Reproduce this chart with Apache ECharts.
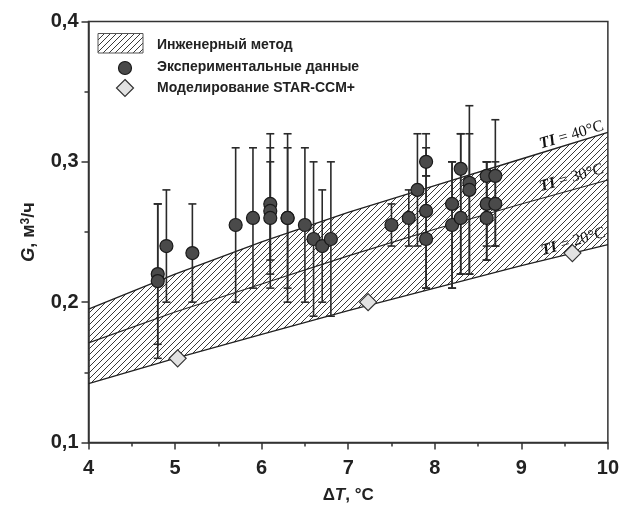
<!DOCTYPE html>
<html><head><meta charset="utf-8">
<script src="https://cdn.jsdelivr.net/npm/echarts@6/dist/echarts.min.js"></script>
<style>html,body{margin:0;padding:0;background:#fff}#c{width:622px;height:515px}</style>
</head><body><div id="c"></div>
<script>
// Engineering method curves (TI = 20, 30, 40 °C)
const curveX = [4, 5, 6, 7, 8, 9, 10];
const ti40 = [0.195, 0.220, 0.243, 0.264, 0.283, 0.302, 0.321];
const ti30 = [0.171, 0.193, 0.213, 0.233, 0.252, 0.270, 0.287];
const ti20 = [0.142, 0.160, 0.177, 0.194, 0.210, 0.226, 0.241];
// Experimental data with error bars
const expX    = [4.8, 4.8, 4.9, 5.2, 5.7, 5.9, 6.1, 6.1, 6.1, 6.3, 6.3, 6.5, 6.6, 6.7, 6.8, 7.5, 7.7, 7.8, 7.9, 7.9, 7.9, 8.2, 8.2, 8.3, 8.3, 8.4, 8.4, 8.6, 8.6, 8.6, 8.7, 8.7];
const expY    = [0.220, 0.215, 0.240, 0.235, 0.255, 0.260, 0.270, 0.265, 0.260, 0.260, 0.260, 0.255, 0.245, 0.240, 0.245, 0.255, 0.260, 0.280, 0.300, 0.265, 0.245, 0.270, 0.255, 0.295, 0.260, 0.285, 0.280, 0.290, 0.270, 0.260, 0.290, 0.270];
const expLow  = [0.17, 0.16, 0.20, 0.20, 0.20, 0.21, 0.23, 0.22, 0.21, 0.21, 0.20, 0.20, 0.19, 0.20, 0.19, 0.24, 0.24, 0.24, 0.29, 0.21, 0.21, 0.21, 0.21, 0.22, 0.22, 0.22, 0.22, 0.23, 0.24, 0.23, 0.24, 0.24];
const expHigh = [0.27, 0.27, 0.28, 0.27, 0.31, 0.31, 0.32, 0.31, 0.30, 0.32, 0.31, 0.31, 0.30, 0.28, 0.30, 0.27, 0.28, 0.32, 0.32, 0.31, 0.29, 0.30, 0.30, 0.32, 0.32, 0.34, 0.32, 0.30, 0.30, 0.30, 0.33, 0.30];
// STAR-CCM+ simulation
const simX = [5.03, 7.23, 9.59];
const simY = [0.160, 0.200, 0.235];
// Labels
const legendNames = ['Инженерный метод', 'Экспериментальные данные', 'Моделирование STAR-CCM+'];
const curveLabels = ['TI = 40°C', 'TI = 30°C', 'TI = 20°C'];

function hatch() {
  const c = document.createElement('canvas'); c.width = 6; c.height = 6;
  const g = c.getContext('2d'); g.strokeStyle = '#3a3a3a'; g.lineWidth = 1;
  g.beginPath(); g.moveTo(0, 6); g.lineTo(6, 0); g.moveTo(-1, 1); g.lineTo(1, -1); g.moveTo(5, 7); g.lineTo(7, 5); g.stroke();
  return c;
}
const pat = { image: hatch(), repeat: 'repeat' };

const chart = echarts.init(document.getElementById('c'), null, { renderer: 'canvas' });
const lineCol = '#222';
const font = 'Liberation Sans, Arial, sans-serif';
const richName = (fs) => ({
  a: { fontSize: fs, fontWeight: 'bold', color: '#222', fontFamily: font },
  i: { fontSize: fs, fontWeight: 'bold', fontStyle: 'italic', color: '#222', fontFamily: font }
});
const option = {
  animation: false,
  grid: { left: 88.5, right: 12, top: 21.5, bottom: 72.5, show: true, borderColor: '#333', borderWidth: 1.5 },
  xAxis: {
    type: 'value', min: 4, max: 10, interval: 1,
    axisLine: { lineStyle: { color: '#333', width: 1.5 } },
    axisTick: { length: 7, lineStyle: { color: '#333', width: 1.5 } },
    minorTick: { show: true, splitNumber: 2, length: 4, lineStyle: { color: '#333', width: 1.5 } },
    splitLine: { show: false },
    axisLabel: { margin: 16, color: '#222', fontSize: 20, fontWeight: 'bold', fontFamily: font },
    name: '{a|Δ}{i|T}{a|, °C}', nameLocation: 'middle', nameGap: 44,
    nameTextStyle: { rich: richName(17) }
  },
  yAxis: {
    type: 'value', min: 0.1, max: 0.4, interval: 0.1,
    axisLine: { lineStyle: { color: '#333', width: 1.5 } },
    axisTick: { length: 7, lineStyle: { color: '#333', width: 1.5 } },
    minorTick: { show: true, splitNumber: 2, length: 4, lineStyle: { color: '#333', width: 1.5 } },
    splitLine: { show: false },
    axisLabel: { margin: 10, color: '#222', fontSize: 20, fontWeight: 'bold', fontFamily: font, formatter: v => v.toFixed(1).replace('.', ',') },
    name: '{i|G}{a|, м}{s|3}{a|/ч}', nameLocation: 'middle', nameGap: 50,
    nameTextStyle: { rich: Object.assign(richName(18), { s: { fontSize: 12, fontWeight: 'bold', color: '#222', fontFamily: font, verticalAlign: 'top', padding: [0, 0, 7, 0] } }) }
  },
  series: [
    { name: legendNames[0], type: 'custom', z: 1,
      data: [[curveX[0], ti20[0], ti40[0]]],
      renderItem: (params, api) => {
        const pts = [];
        curveX.forEach((x, i) => pts.push(api.coord([x, ti40[i]])));
        for (let i = curveX.length - 1; i >= 0; i--) pts.push(api.coord([curveX[i], ti20[i]]));
        return { type: 'polygon', shape: { points: pts }, style: { fill: pat, stroke: null } };
      } },
    { name: 'TI40', type: 'line', symbol: 'none', z: 3,
      data: curveX.map((x, i) => [x, ti40[i]]), lineStyle: { color: lineCol, width: 1.4 } },
    { name: 'TI30', type: 'line', symbol: 'none', z: 3,
      data: curveX.map((x, i) => [x, ti30[i]]), lineStyle: { color: lineCol, width: 1.1 } },
    { name: 'TI20', type: 'line', symbol: 'none', z: 3,
      data: curveX.map((x, i) => [x, ti20[i]]), lineStyle: { color: lineCol, width: 1.4 } },
    { name: 'err', type: 'custom', z: 4,
      data: expX.map((x, i) => [x, expLow[i], expHigh[i]]),
      renderItem: (params, api) => {
        const lo = api.coord([api.value(0), api.value(1)]);
        const hi = api.coord([api.value(0), api.value(2)]);
        const w = 4; const st = { stroke: '#2a2a2a', lineWidth: 1.6 };
        return { type: 'group', children: [
          { type: 'line', shape: { x1: lo[0], y1: lo[1], x2: hi[0], y2: hi[1] }, style: st },
          { type: 'line', shape: { x1: lo[0] - w, y1: lo[1], x2: lo[0] + w, y2: lo[1] }, style: st },
          { type: 'line', shape: { x1: hi[0] - w, y1: hi[1], x2: hi[0] + w, y2: hi[1] }, style: st }
        ] };
      } },
    { name: legendNames[1], type: 'scatter', z: 5, symbol: 'circle', symbolSize: 13,
      data: expX.map((x, i) => [x, expY[i]]),
      itemStyle: { color: '#4a4a4a', borderColor: '#1a1a1a', borderWidth: 1.2, opacity: 1 } },
    { name: legendNames[2], type: 'scatter', z: 5, symbol: 'diamond', symbolSize: [17, 17],
      data: simX.map((x, i) => [x, simY[i]]),
      itemStyle: { color: '#e2e2e2', borderColor: '#333', borderWidth: 1.2, opacity: 1 } }
  ]
};
chart.setOption(option);

// Legend and curve labels as graphics
const lf = { fontSize: 14, fontWeight: 'bold', fill: '#222', fontFamily: font, textVerticalAlign: 'middle' };
const curveAnch = [[9.58, 0.319], [9.58, 0.2885], [9.60, 0.243]];
const g = [
  { type: 'rect', shape: { x: 98, y: 33.5, width: 45, height: 19.5 }, style: { fill: pat, stroke: '#555', lineWidth: 1 } },
  { type: 'text', x: 157, y: 45, style: Object.assign({ text: legendNames[0] }, lf) },
  { type: 'circle', shape: { cx: 125, cy: 68, r: 6.5 }, style: { fill: '#4a4a4a', stroke: '#1a1a1a', lineWidth: 1.2 } },
  { type: 'text', x: 157, y: 67, style: Object.assign({ text: legendNames[1] }, lf) },
  { type: 'polygon', shape: { points: [[125, 79.5], [133.5, 88], [125, 96.5], [116.5, 88]] }, style: { fill: '#e2e2e2', stroke: '#333', lineWidth: 1.2 } },
  { type: 'text', x: 157, y: 88, style: Object.assign({ text: legendNames[2] }, lf) }
];
curveLabels.forEach((t, i) => {
  const p = chart.convertToPixel({ gridIndex: 0 }, curveAnch[i]);
  const parts = t.split(' ');
  g.push({ type: 'text', x: p[0], y: p[1], rotation: 16.5 * Math.PI / 180,
    style: { text: '{i|' + parts[0] + '}{n| ' + parts.slice(1).join(' ') + '}', textAlign: 'center', textVerticalAlign: 'middle',
      rich: { i: { fontFamily: 'Liberation Serif, Times New Roman, serif', fontStyle: 'italic', fontWeight: 'bold', fontSize: 16, fill: '#111' },
              n: { fontFamily: 'Liberation Serif, Times New Roman, serif', fontSize: 16, fill: '#111' } } } });
});
chart.setOption({ graphic: g });
</script></body></html>
